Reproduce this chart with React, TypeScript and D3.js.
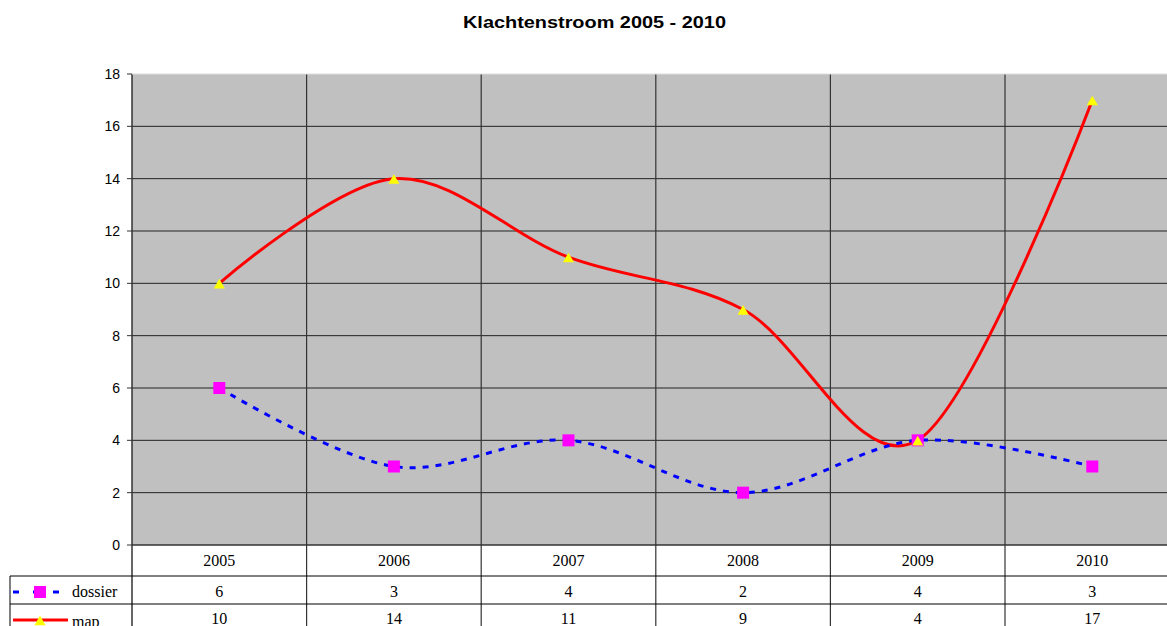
import React from "react";
import * as d3 from "d3";

const years = ["2005", "2006", "2007", "2008", "2009", "2010"];
const dossier = [6, 3, 4, 2, 4, 3];
const map = [10, 14, 11, 9, 4, 17];
const yTicks = [0, 2, 4, 6, 8, 10, 12, 14, 16, 18];
const title = "Klachtenstroom 2005 - 2010";

export default function App() {
  const W = 1167, H = 626;
  const left = 132, top = 74, bottom = 545;
  const bandW = 174.6;
  const x = d3.scaleBand<string>().domain(years).range([left, left + bandW * years.length]);
  const y = d3.scaleLinear().domain([0, 18]).range([bottom, top]);
  const cx = (d: string) => (x(d) as number) + x.bandwidth() / 2;
  const line = d3
    .line<number>()
    .x((_, i) => cx(years[i]))
    .y((v) => y(v))
    .curve(d3.curveCardinal.tension(0));
  const rowTop = 576, rowMid = 604, rowBot = 640;
  const serif = "'Liberation Serif', 'DejaVu Serif', serif";
  const sans = "'Liberation Sans', Arial, sans-serif";
  const tri = (px: number, py: number, s = 6) =>
    `M${px},${py - s}L${px + s},${py + s * 0.75}L${px - s},${py + s * 0.75}Z`;
  return (
    <svg width={W} height={H} style={{ position: "absolute", left: 0, top: 0, background: "#fff" }}>
      <text x={463} y={28} textLength={263} lengthAdjust="spacingAndGlyphs" fontFamily={sans} fontWeight="bold" fontSize={17}>
        {title}
      </text>
      <rect x={left} y={top} width={W - left} height={bottom - top} fill="#c0c0c0" />
      {yTicks.map((t) => (
        <g key={t}>
          {t > 0 && t < 18 && (
            <line x1={left} x2={W} y1={y(t)} y2={y(t)} stroke="#222" strokeWidth={1} />
          )}
          <line x1={left - 5} x2={left} y1={y(t)} y2={y(t)} stroke="#333" />
          <text x={left - 12} y={y(t)} dy="0.35em" textAnchor="end" fontFamily={sans} fontSize={14}>
            {t}
          </text>
        </g>
      ))}
      {years.slice(1).map((yr) => (
        <line key={yr} x1={x(yr)} x2={x(yr)} y1={top} y2={rowBot} stroke="#333" strokeWidth={1.2} />
      ))}
      <line x1={left} x2={left} y1={top} y2={rowBot} stroke="#333" strokeWidth={1.5} />
      <line x1={left} x2={W} y1={bottom} y2={bottom} stroke="#333" strokeWidth={1.5} />
      <line x1={left} x2={W} y1={top} y2={top} stroke="#ddd" strokeWidth={1} />
      <path d={line(map) || ""} fill="none" stroke="#ff0000" strokeWidth={3} />
      <path d={line(dossier) || ""} fill="none" stroke="#0000ff" strokeWidth={3} strokeDasharray="6,7" />
      {dossier.map((v, i) => (
        <rect key={"d" + i} x={cx(years[i]) - 6} y={y(v) - 6} width={12} height={12} fill="#ff00ff" />
      ))}
      {map.map((v, i) => (
        <path key={"m" + i} d={tri(cx(years[i]), y(v) + 1, 5.5)} fill="#ffff00" />
      ))}
      {/* table */}
      <line x1={10} x2={W} y1={rowTop} y2={rowTop} stroke="#000" />
      <line x1={10} x2={W} y1={rowMid} y2={rowMid} stroke="#000" />
      <line x1={10} x2={10} y1={rowTop} y2={rowBot} stroke="#000" />
      {years.map((yr, i) => (
        <g key={"t" + yr} fontFamily={serif} fontSize={16} textAnchor="middle">
          <text x={cx(yr)} y={566}>{yr}</text>
          <text x={cx(yr)} y={597}>{dossier[i]}</text>
          <text x={cx(yr)} y={624}>{map[i]}</text>
        </g>
      ))}
      <line x1={13} x2={59} y1={592} y2={592} stroke="#0000ff" strokeWidth={3} strokeDasharray="6,14" />
      <rect x={34} y={586} width={12} height={12} fill="#ff00ff" />
      <text x={72} y={597} fontFamily={serif} fontSize={16}>dossier</text>
      <line x1={13} x2={68} y1={620} y2={620} stroke="#ff0000" strokeWidth={3} />
      <path d={tri(40, 621, 5.5)} fill="#ffff00" />
      <text x={72} y={627} fontFamily={serif} fontSize={16}>map</text>
    </svg>
  );
}
